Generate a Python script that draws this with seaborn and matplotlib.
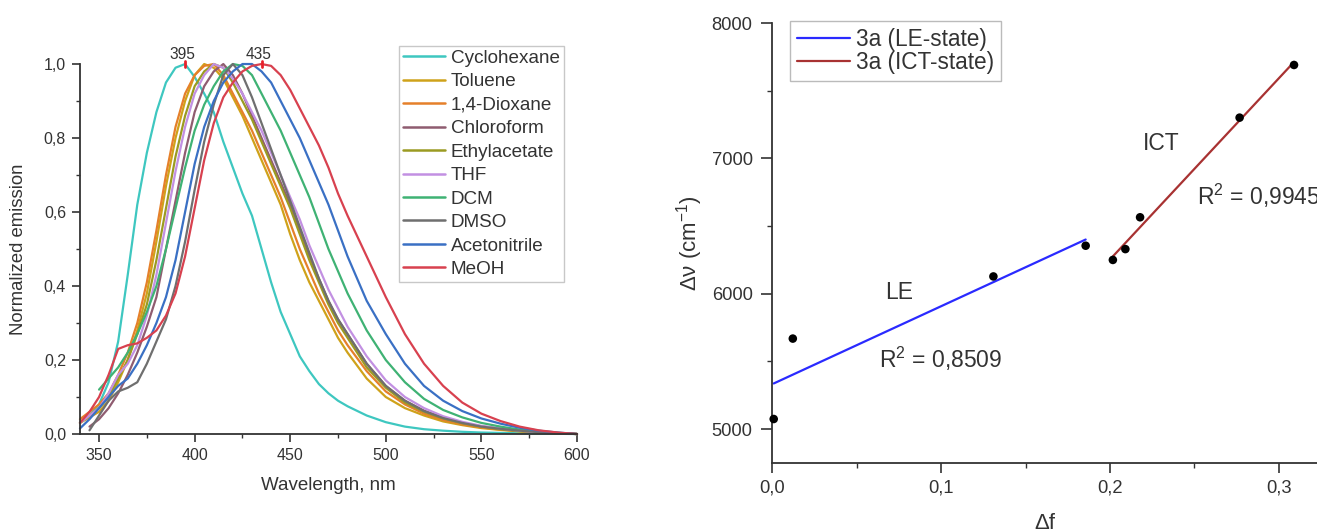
import numpy as np
import pandas as pd
import matplotlib
matplotlib.use("Agg")
import matplotlib.pyplot as plt
from matplotlib.ticker import MultipleLocator, FuncFormatter
from matplotlib.lines import Line2D
import seaborn as sns

# ---------------- data: emission spectra ----------------
wavelength = [340, 345, 350, 355, 360, 365, 370, 375, 380, 385, 390, 395, 400, 405, 410,
              415, 420, 425, 430, 435, 440, 445, 450, 455, 460, 465, 470, 475, 480,
              490, 500, 510, 520, 530, 540, 550, 560, 570, 580, 590, 600]
nan = np.nan
cyclohexane = [nan, .05, .08, .14, .25, .43, .62, .76, .87, .95, .99, 1.0, .965, .92, .87,
               .79, .72, .65, .59, .50, .41, .33, .27, .21, .17, .135, .11, .09, .075,
               .05, .032, .02, .013, .009, .006, .004, .003, .002, .001, .0005, 0]
toluene = [.03, .045, .06, .09, .14, .20, .28, .38, .52, .67, .80, .90, .97, 1.0, .99,
           .96, .91, .86, .80, .74, .68, .62, .54, .47, .41, .36, .31, .26, .22,
           .15, .10, .07, .05, .034, .024, .016, .011, .007, .004, .002, 0]
dioxane = [.04, .06, .08, .11, .16, .22, .30, .41, .55, .70, .83, .92, .97, .995, 1.0,
           .97, .92, .87, .82, .76, .70, .64, .57, .50, .44, .38, .33, .28, .24,
           .17, .115, .08, .055, .038, .026, .018, .012, .008, .005, .002, 0]
chloroform = [nan, .02, .04, .07, .11, .16, .22, .29, .37, .50, .63, .76, .87, .94, .98,
              1.0, .97, .92, .86, .80, .74, .68, .62, .55, .48, .42, .36, .31, .27,
              .19, .13, .09, .063, .044, .03, .021, .014, .009, .005, .002, 0]
ethylacetate = [.03, .05, .07, .10, .15, .20, .27, .35, .47, .61, .75, .86, .94, .98, 1.0,
                .99, .95, .90, .85, .79, .73, .67, .61, .54, .47, .41, .35, .30, .26,
                .18, .125, .085, .06, .042, .029, .02, .013, .008, .005, .002, 0]
thf = [.03, .05, .07, .11, .16, .19, .24, .32, .43, .57, .71, .83, .92, .97, 1.0,
       .99, .96, .92, .87, .82, .76, .70, .64, .58, .51, .45, .39, .34, .29,
       .21, .145, .10, .07, .048, .033, .022, .015, .009, .005, .002, 0]
dcm = [nan, nan, .12, .15, .18, .22, .27, .33, .40, .50, .61, .72, .82, .89, .94,
       .98, 1.0, .995, .97, .92, .87, .82, .76, .70, .64, .57, .50, .44, .38,
       .28, .20, .14, .095, .065, .045, .03, .02, .012, .007, .003, 0]
dmso = [nan, .01, .05, .09, .115, .125, .14, .19, .25, .31, .40, .52, .66, .79, .89,
        .97, 1.0, .97, .91, .84, .77, .70, .63, .56, .49, .42, .36, .31, .27,
        .19, .13, .09, .062, .043, .03, .02, .014, .009, .005, .002, 0]
acetonitrile = [.015, .04, .07, .10, .13, .15, .19, .24, .30, .37, .47, .60, .73, .83, .90,
                .95, .98, 1.0, 1.0, .98, .95, .90, .85, .80, .74, .68, .62, .55, .48,
                .36, .27, .19, .13, .09, .062, .042, .028, .017, .009, .004, 0]
meoh = [.03, .06, .10, .16, .23, .24, .245, .26, .28, .32, .38, .48, .61, .74, .84,
        .91, .95, .98, .995, 1.0, .995, .97, .93, .88, .83, .78, .72, .65, .59,
        .48, .37, .27, .19, .13, .085, .055, .035, .02, .01, .004, 0]

solvents = ["Cyclohexane", "Toluene", "1,4-Dioxane", "Chloroform", "Ethylacetate",
            "THF", "DCM", "DMSO", "Acetonitrile", "MeOH"]
spectra = [cyclohexane, toluene, dioxane, chloroform, ethylacetate,
           thf, dcm, dmso, acetonitrile, meoh]
colors = ["#3ec7c0", "#cfa21a", "#e5802a", "#8f5c70", "#9b9b22",
          "#c290e2", "#3fb274", "#6f6f6f", "#3a70c4", "#d8414f"]
peak_wl = [395, 435]
peak_labels = ["395", "435"]

# ---------------- data: Lippert-Mataga ----------------
df_vals = [0.001, 0.0123, 0.131, 0.1856, 0.2017, 0.2091, 0.2178, 0.2767, 0.3089]
dnu_vals = [5075, 5669, 6128, 6355, 6250, 6330, 6565, 7301, 7690]
state = ["LE", "LE", "LE", "LE", "ICT", "ICT", "ICT", "ICT", "ICT"]

# ---------------- style ----------------
sns.set_style("ticks")
plt.rcParams["font.family"] = ["Liberation Sans", "DejaVu Sans"]
plt.rcParams["mathtext.fontset"] = "custom"
plt.rcParams["mathtext.rm"] = "Liberation Sans"
plt.rcParams["mathtext.it"] = "Liberation Sans:italic"
plt.rcParams["axes.edgecolor"] = "#333333"
plt.rcParams["xtick.color"] = "#333333"
plt.rcParams["ytick.color"] = "#333333"
plt.rcParams["text.color"] = "#333333"
plt.rcParams["axes.labelcolor"] = "#333333"

fig = plt.figure(figsize=(13.17, 5.30), dpi=100)
axL = fig.add_axes([0.0607, 0.1811, 0.3774, 0.6981])
axR = fig.add_axes([0.5862, 0.1264, 0.4138, 0.8302])

comma = FuncFormatter(lambda v, p: f"{v:.1f}".replace(".", ","))

# ---------------- left panel ----------------
rows = []
for name, vals in zip(solvents, spectra):
    for w, v in zip(wavelength, vals):
        if not np.isnan(v):
            rows.append({"wl": w, "em": v, "solvent": name})
spec_df = pd.DataFrame(rows)
sns.lineplot(data=spec_df, x="wl", y="em", hue="solvent", hue_order=solvents,
             palette=dict(zip(solvents, colors)), estimator=None, sort=False,
             linewidth=1.6, ax=axL, legend=False, clip_on=False)
for pw, pl in zip(peak_wl, peak_labels):
    axL.plot([pw, pw], [0.992, 1.008], color="#e8202a", lw=2.0, clip_on=False, zorder=5)
    axL.text(pw - 1.5, 1.006, pl, ha="center", va="bottom", fontsize=11.2)

axL.set_xlim(340, 600)
axL.set_ylim(0, 1.0)
axL.xaxis.set_major_locator(MultipleLocator(50))
axL.xaxis.set_minor_locator(MultipleLocator(25))
axL.yaxis.set_major_locator(MultipleLocator(0.2))
axL.yaxis.set_minor_locator(MultipleLocator(0.1))
axL.yaxis.set_major_formatter(comma)
axL.tick_params(which="major", length=6, width=1.2, labelsize=11.5, pad=4)
axL.tick_params(which="minor", length=3, width=1.0)
axL.set_xlabel("Wavelength, nm", fontsize=13.5, labelpad=10)
axL.set_ylabel("Normalized emission", fontsize=13.3, labelpad=12)
for s in ["top", "right"]:
    axL.spines[s].set_visible(False)
for s in ["left", "bottom"]:
    axL.spines[s].set_linewidth(1.3)

handles = [Line2D([], [], color=c, lw=1.8) for c in colors]
leg = axL.legend(handles, solvents, loc="upper left", bbox_to_anchor=(0.642, 1.049),
                 fontsize=13.6, frameon=True, fancybox=False, borderpad=0.2,
                 labelspacing=0.33, handlelength=2.25, handletextpad=0.3,
                 borderaxespad=0)
leg.get_frame().set_edgecolor("#bbbbbb")
leg.get_frame().set_linewidth(1.0)

# ---------------- right panel ----------------
lm = pd.DataFrame({"df": df_vals, "dnu": dnu_vals, "state": state})
le = lm[lm.state == "LE"]
ict = lm[lm.state == "ICT"]
sns.regplot(data=le, x="df", y="dnu", scatter=False, ci=None, truncate=True,
            line_kws={"color": "#2a2aff", "lw": 1.6}, ax=axR)
sns.regplot(data=ict, x="df", y="dnu", scatter=False, ci=None, truncate=True,
            line_kws={"color": "#a83232", "lw": 1.6}, ax=axR)
sns.scatterplot(data=lm, x="df", y="dnu", color="black", s=38, edgecolor="none",
                ax=axR, clip_on=False, zorder=5)

axR.set_xlim(0, 0.3225)
axR.set_ylim(4750, 8000)
axR.xaxis.set_major_locator(MultipleLocator(0.1))
axR.xaxis.set_minor_locator(MultipleLocator(0.05))
axR.yaxis.set_major_locator(MultipleLocator(1000))
axR.yaxis.set_minor_locator(MultipleLocator(500))
axR.xaxis.set_major_formatter(comma)
axR.tick_params(which="major", length=7, width=1.2, labelsize=13.2, pad=5)
axR.tick_params(axis="y", which="major", length=8, pad=6)
axR.tick_params(which="minor", length=3.5, width=1.0)
axR.set_xlabel("Δf", fontsize=16, labelpad=12)
axR.set_ylabel("Δν (cm$^{-1}$)", fontsize=16, labelpad=5)
for s in ["top", "right"]:
    axR.spines[s].set_visible(False)
for s in ["left", "bottom"]:
    axR.spines[s].set_linewidth(1.3)

axR.text(0.075, 6011, "LE", ha="center", va="center", fontsize=16.5)
axR.text(0.0998, 5519, "R$^2$ = 0,8509", ha="center", va="center", fontsize=16.5)
axR.text(0.2304, 7109, "ICT", ha="center", va="center", fontsize=16.5)
axR.text(0.2515, 6722, "R$^2$ = 0,9945", ha="left", va="center", fontsize=16.5,
         clip_on=False)

h2 = [Line2D([], [], color="#2a2aff", lw=1.6), Line2D([], [], color="#a83232", lw=1.6)]
leg2 = axR.legend(h2, ["3a (LE-state)", "3a (ICT-state)"], loc="upper left",
                  bbox_to_anchor=(0.033, 1.0045), fontsize=16.3, frameon=True,
                  fancybox=False, borderpad=0.3, labelspacing=0.02,
                  handlelength=2.35, handletextpad=0.25, borderaxespad=0)
leg2.get_frame().set_edgecolor("#aaaaaa")
leg2.get_frame().set_linewidth(1.0)

fig.savefig("out.png", dpi=100)
